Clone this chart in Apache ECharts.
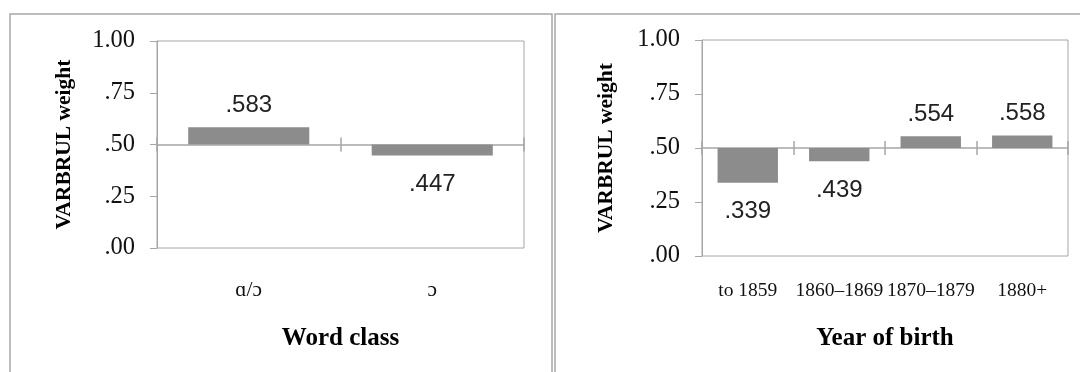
<!DOCTYPE html>
<html>
<head>
<meta charset="utf-8">
<script src="https://cdn.jsdelivr.net/npm/echarts@6/dist/echarts.min.js"></script>
<style>
  html, body { margin: 0; padding: 0; background: #fff; }
  #chart { width: 1080px; height: 372px; }
</style>
</head>
<body>
<div id="chart"></div>
<script>
// VARBRUL weights, drawn as deviations from the neutral .50 line
const wordClassCategories = ['\u0251/\u0254', '\u0254'];
const wordClassWeights = [0.583, 0.447];

const birthCategories = ['to 1859', '1860\u20131869', '1870\u20131879', '1880+'];
const birthWeights = [0.339, 0.439, 0.554, 0.558];

const yTicks = [0, 0.25, 0.5, 0.75, 1];
const neutral = 0.5;

const serif = '"Liberation Serif", "DejaVu Serif", serif';
const sans = '"Liberation Sans", Arial, sans-serif';
const axisGray = '#a6a6a6';
const barGray = '#8c8c8c';

function weightLabel(v) {
  return v.toFixed(3).replace(/^0/, '');
}
function tickLabel(v) {
  const w = Math.round((v + neutral) * 100) / 100;
  return w.toFixed(2).replace(/^0/, '');
}

function yAxisFor(gridIndex, gap) {
  return {
    type: 'value', gridIndex: gridIndex,
    min: yTicks[0] - neutral, max: yTicks[yTicks.length - 1] - neutral, interval: 0.25,
    name: 'VARBRUL weight', nameLocation: 'middle', nameGap: gap, nameRotate: 90,
    nameTextStyle: { fontFamily: serif, fontWeight: 'bold', fontSize: 21.5, color: '#000' },
    axisLine: { show: true, lineStyle: { color: axisGray, width: 1 } },
    axisTick: { show: true, length: 7, lineStyle: { color: axisGray } },
    splitLine: { show: false },
    axisLabel: { formatter: tickLabel, fontFamily: serif, fontSize: 24.5, color: '#111', margin: 22 }
  };
}

// three category axes per grid: labels at the bottom, and the .50 line
// with boundary ticks crossing it (one pointing down, one pointing up)
function xAxesFor(gridIndex, cats, name, labelSize, labelMargin, nameGap) {
  return [
    {
      type: 'category', gridIndex: gridIndex, data: cats, position: 'bottom',
      axisLine: { show: false, onZero: false }, axisTick: { show: false },
      axisLabel: { interval: 0, fontFamily: serif, fontSize: labelSize, color: '#111', margin: labelMargin },
      name: name, nameLocation: 'middle', nameGap: nameGap,
      nameTextStyle: { fontFamily: serif, fontWeight: 'bold', fontSize: 25, color: '#000' }
    },
    {
      type: 'category', gridIndex: gridIndex, data: cats, position: 'bottom',
      axisLine: { show: true, onZero: true, lineStyle: { color: axisGray, width: 1.5 } },
      axisTick: { show: true, length: 7, lineStyle: { color: axisGray, width: 1.5 } },
      axisLabel: { show: false }
    },
    {
      type: 'category', gridIndex: gridIndex, data: cats, position: 'bottom',
      axisLine: { show: false, onZero: true, onZeroAxisIndex: gridIndex },
      axisTick: { show: true, inside: true, length: 7, lineStyle: { color: axisGray, width: 1.5 } },
      axisLabel: { show: false }
    }
  ];
}

function barSeries(xIndex, yIndex, weights, width, gapUp, gapDown) {
  return {
    type: 'bar', xAxisIndex: xIndex, yAxisIndex: yIndex, barWidth: width,
    itemStyle: { color: barGray },
    data: weights.map(w => ({
      value: w - neutral,
      label: {
        show: true,
        position: w >= neutral ? 'top' : 'bottom',
        distance: w >= neutral ? gapUp : gapDown,
        formatter: () => weightLabel(w),
        fontFamily: sans, fontSize: 24, color: '#222'
      }
    }))
  };
}

const chart = echarts.init(document.getElementById('chart'), null, { renderer: 'canvas' });

chart.setOption({
  animation: false,
  backgroundColor: '#fff',
  graphic: [
    { type: 'rect', shape: { x: 10, y: 14, width: 542, height: 400 },
      style: { fill: 'none', stroke: '#a8a8a8', lineWidth: 1.5 }, silent: true },
    { type: 'rect', shape: { x: 555, y: 14, width: 600, height: 400 },
      style: { fill: 'none', stroke: '#a8a8a8', lineWidth: 1.5 }, silent: true }
  ],
  grid: [
    { left: 157, top: 41, width: 367, height: 207, show: true, borderColor: axisGray, borderWidth: 1, backgroundColor: 'transparent' },
    { left: 702, top: 40, width: 366, height: 216, show: true, borderColor: axisGray, borderWidth: 1, backgroundColor: 'transparent' }
  ],
  xAxis: [].concat(
    xAxesFor(0, wordClassCategories, 'Word class', 21.5, 31, 78),
    xAxesFor(1, birthCategories, 'Year of birth', 19.5, 25, 70)
  ),
  yAxis: [yAxisFor(0, 82), yAxisFor(1, 85)],
  series: [
    barSeries(1, 0, wordClassWeights, '66%', 10, 17),
    barSeries(4, 1, birthWeights, '66%', 10, 17)
  ]
});
</script>
</body>
</html>
